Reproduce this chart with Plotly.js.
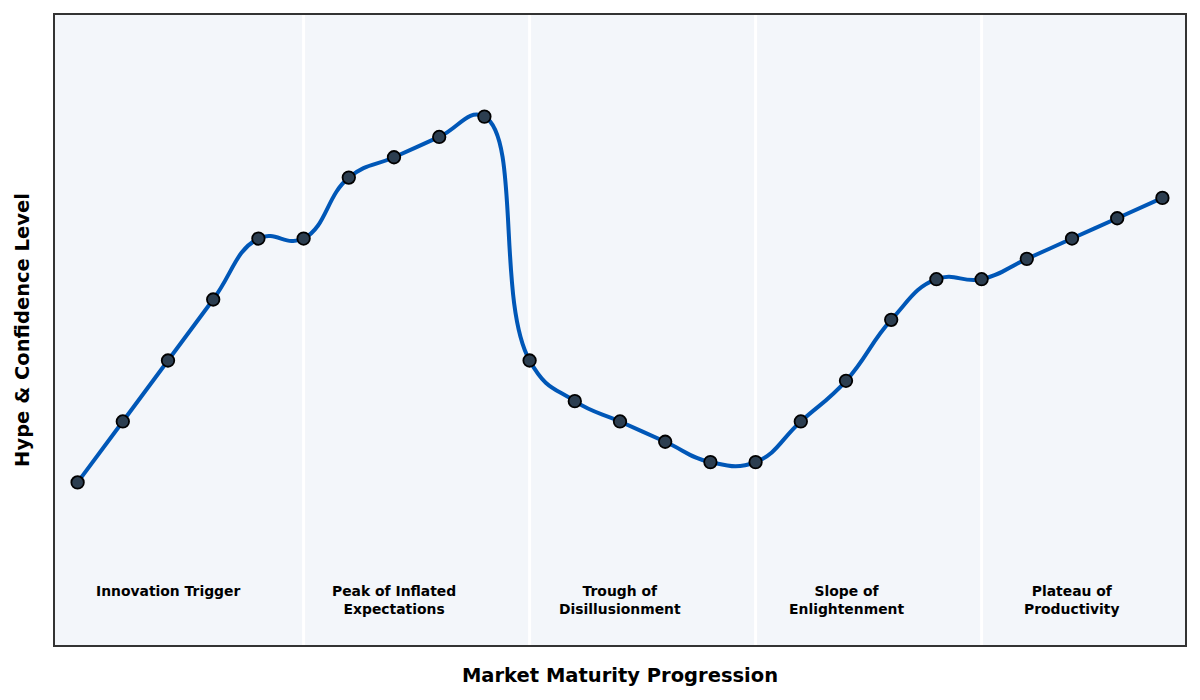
<!DOCTYPE html>
<html>
<head>
<meta charset="utf-8">
<script src="https://cdn.plot.ly/plotly-3.0.1.min.js"></script>
<style>html,body{margin:0;padding:0;background:#fff;}#chart{width:1200px;height:700px;}</style>
</head>
<body>
<div id="chart"></div>
<script>
const steps = [0,1,2,3,4,5,6,7,8,9,10,11,12,13,14,15,16,17,18,19,20,21,22,23,24];
const hype = [20,35,50,65,80,80,95,100,105,110,50,40,35,30,25,25,35,45,60,70,70,75,80,85,90];
const phaseBoundaries = [5,10,15,20];
const phaseCenters = [2,7,12,17,22];
const phaseLabels = ["Innovation Trigger","Peak of Inflated<br>Expectations","Trough of<br>Disillusionment","Slope of<br>Enlightenment","Plateau of<br>Productivity"];

const trace = {
  x: steps, y: hype, type: 'scatter', mode: 'lines+markers',
  line: {shape: 'spline', smoothing: 1.3, color: '#0057b7', width: 4},
  marker: {size: 12.5, color: '#2c3e50', line: {color: '#000', width: 1.8}},
  hoverinfo: 'x+y'
};

const shapes = phaseBoundaries.map(b => ({
  type: 'line', xref: 'x', yref: 'paper', x0: b, x1: b, y0: 0, y1: 1,
  line: {color: '#ffffff', width: 3}, layer: 'below'
}));

const annotations = phaseCenters.map((c, i) => ({
  x: c, y: -4.2, xref: 'x', yref: 'y', text: phaseLabels[i], showarrow: false,
  yanchor: 'top', xanchor: 'center', align: 'center',
  font: {family: 'DejaVu Sans', size: 13.9, color: '#000', weight: 'bold'}
}));

const layout = {
  width: 1200, height: 700,
  margin: {l: 55, r: 15, t: 15, b: 55},
  paper_bgcolor: '#ffffff', plot_bgcolor: '#f3f6fa',
  showlegend: false,
  font: {family: 'DejaVu Sans', color: '#000'},
  xaxis: {range: [-0.5, 24.5], showticklabels: false, ticks: '', showgrid: false, zeroline: false,
    showline: true, mirror: true, linecolor: '#333', linewidth: 2,
    title: {text: '<b>Market Maturity Progression</b>', font: {size: 19.5, family: 'DejaVu Sans'}, standoff: 22}},
  yaxis: {range: [-20, 135], showticklabels: false, ticks: '', showgrid: false, zeroline: false,
    showline: true, mirror: true, linecolor: '#333', linewidth: 2,
    title: {text: '<b>Hype & Confidence Level</b>', font: {size: 19.5, family: 'DejaVu Sans'}, standoff: 18}},
  shapes: shapes, annotations: annotations
};

Plotly.newPlot('chart', [trace], layout, {displayModeBar: false});
</script>
</body>
</html>
